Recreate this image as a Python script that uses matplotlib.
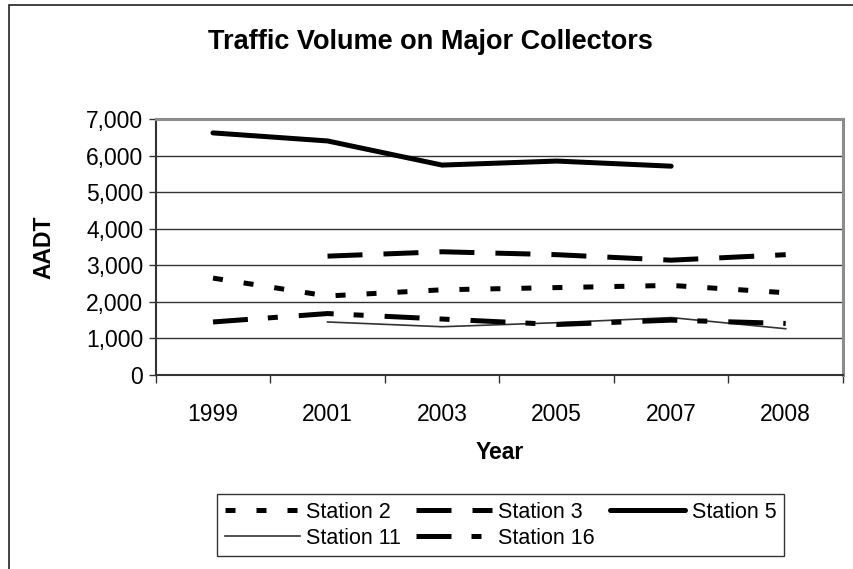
import numpy as np
import matplotlib
matplotlib.use('Agg')
import matplotlib.pyplot as plt
from matplotlib.patches import Rectangle
from matplotlib.ticker import FuncFormatter

plt.rcParams['font.family'] = ['Liberation Sans', 'DejaVu Sans']
plt.rcParams['lines.scale_dashes'] = False

# data (AADT)
years = ['1999', '2001', '2003', '2005', '2007', '2008']
station2 = [2650, 2160, 2330, 2390, 2450, 2250]
station3 = [np.nan, 3250, 3370, 3290, 3140, 3290]
station5 = [6620, 6400, 5740, 5850, 5710, np.nan]
station11 = [np.nan, 1450, 1320, 1430, 1570, 1265]
station16 = [1450, 1680, 1530, 1380, 1500, 1410]

W, H = 854, 569
fig = plt.figure(figsize=(W / 100, H / 100), dpi=100)

# outer chart border (cut off at right/bottom like the original)
fig.patches.append(Rectangle((9 / W, -0.1), 1.2, 1 - 5 / H + 0.1,
                             transform=fig.transFigure, fill=False,
                             edgecolor='#222222', linewidth=1.2, clip_on=False))

# plot area in pixels
x0, x1, ytop, ybot = 155.7, 843, 119, 375
ax = fig.add_axes([x0 / W, 1 - ybot / H, (x1 - x0) / W, (ybot - ytop) / H])

x = np.arange(len(years))
k = 0.72  # px -> pt at 100 dpi
l2, = ax.plot(x, station2, color='black', lw=3.6, dashes=(10 * k, 21 * k),
              dash_capstyle='butt', label='Station 2')
l3, = ax.plot(x, station3, color='black', lw=3.6, dashes=(35 * k, 21 * k),
              dash_capstyle='butt', label='Station 3')
l5, = ax.plot(x, station5, color='black', lw=3.6, solid_capstyle='round',
              label='Station 5')
l11, = ax.plot(x, station11, color='#333333', lw=1.2, label='Station 11')
l16, = ax.plot(x, station16, color='black', lw=3.6,
               dashes=(35 * k, 20 * k, 10 * k, 21 * k),
               dash_capstyle='butt', label='Station 16')

ax.set_xlim(-0.5, len(years) - 0.5)
ax.set_ylim(0, 7000)
ax.set_yticks(np.arange(0, 7001, 1000))
ax.yaxis.set_major_formatter(FuncFormatter(lambda v, p: '{:,.0f}'.format(v)))
ax.tick_params(axis='y', direction='out', length=5, width=1, labelsize=16.5,
               pad=4, color='#333333')
ax.set_xticks(x)
ax.set_xticklabels(years)
ax.set_xticks(np.arange(-0.5, len(years)), minor=True)
ax.tick_params(axis='x', which='major', length=0, labelsize=16.5, pad=20)
ax.tick_params(axis='x', which='minor', direction='out', length=6, width=1,
               color='#333333')
ax.grid(axis='y', color='#333333', lw=1)
ax.set_axisbelow(True)

for s in ['left', 'bottom']:
    ax.spines[s].set_color('#333333')
    ax.spines[s].set_linewidth(1.5)
for s in ['top', 'right']:
    ax.spines[s].set_color('#8c8c8c')
    ax.spines[s].set_linewidth(2.2)

ax.set_ylabel('AADT', fontsize=16.5, fontweight='bold', labelpad=22)
ax.set_xlabel('Year', fontsize=16.5, fontweight='bold', labelpad=11)
fig.text(430 / W, 1 - 42 / H, 'Traffic Volume on Major Collectors',
         ha='center', va='center', fontsize=19.5, fontweight='bold')

# column-major fill -> rows: 2, 3, 5 / 11, 16
handles = [l2, l11, l3, l16, l5]
leg = fig.legend(handles, [h.get_label() for h in handles],
                 loc='upper left', bbox_to_anchor=(217 / W, 1 - 494 / H),
                 ncol=3, fontsize=15.5, frameon=True, fancybox=False,
                 handlelength=3.5, handletextpad=0.3, columnspacing=0.7,
                 labelspacing=0.25, borderpad=0.35, borderaxespad=0)
leg.get_frame().set_edgecolor('black')
leg.get_frame().set_linewidth(1.0)

fig.savefig('out.png', dpi=100)
